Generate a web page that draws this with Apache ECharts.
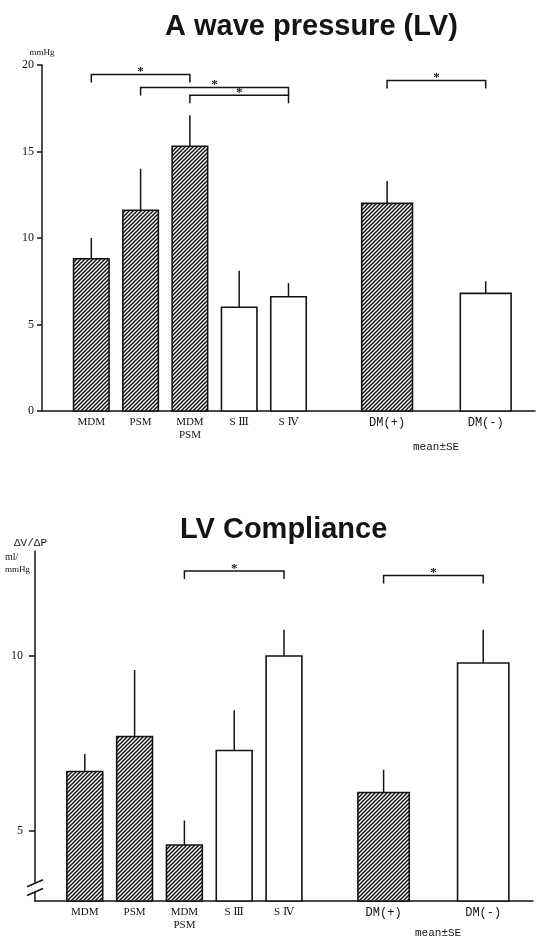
<!DOCTYPE html>
<html><head><meta charset="utf-8">
<script src="https://cdn.jsdelivr.net/npm/echarts@6/dist/echarts.min.js"></script>
<style>html,body{margin:0;padding:0;background:#fff}#c{width:541px;height:941px}</style>
</head><body><div id="c"></div>
<script>
// ---- data ----
const categories = ['MDM', 'PSM', 'MDM\nPSM', 'S Ⅲ', 'S Ⅳ', '', 'DM(+)', '', 'DM(-)'];
const aWaveMean = [8.8, 11.6, 15.3, 6.0, 6.6, null, 12.0, null, 6.8];
const aWaveSE   = [1.2, 2.4, 1.8, 2.1, 0.8, null, 1.3, null, 0.7];
const aWaveTicks = [0, 5, 10, 15, 20];
const aWaveBrackets = [[0, 2, 19.45], [1, 4, 18.7], [2, 4, 18.25], [6, 8, 19.1]]; // from, to, level
const complianceMean = [6.7, 7.7, 4.6, 7.3, 10.0, null, 6.1, null, 9.8];
const complianceSE   = [0.5, 1.9, 0.7, 1.15, 0.75, null, 0.65, null, 0.95];
const complianceTicks = [5, 10];
const complianceBrackets = [[2, 4, 12.43], [6, 8, 12.3]];

// ---- style ----
const SERIF = '"Liberation Serif","DejaVu Serif",serif';
const MONO = '"Liberation Mono","DejaVu Sans Mono",monospace';
const SANS = '"Liberation Sans",Arial,sans-serif';
const INK = '#141414';
const HATCHED = new Set(['MDM', 'PSM', 'MDM\nPSM', 'DM(+)']);
const WIDE = new Set(['DM(+)', 'DM(-)']);

function hatchPattern() {
  const s = 4, c = document.createElement('canvas');
  c.width = s; c.height = s;
  const g = c.getContext('2d');
  g.fillStyle = '#fff'; g.fillRect(0, 0, s, s);
  g.strokeStyle = INK; g.lineWidth = 1.5;
  g.beginPath();
  g.moveTo(-1, s + 1); g.lineTo(s + 1, -1);
  g.moveTo(-2, 2); g.lineTo(2, -2);
  g.moveTo(s - 2, s + 2); g.lineTo(s + 2, s - 2);
  g.stroke();
  return c;
}
const HATCH = { image: hatchPattern(), repeat: 'repeat' };

function barSeries(gi, means, ses, baseVal) {
  const data = means.map((m, i) => [i, m, ses[i]]).filter(d => d[1] != null);
  return {
    type: 'custom', xAxisIndex: gi, yAxisIndex: gi, clip: false,
    encode: { x: 0, y: 1 },
    data,
    renderItem(params, api) {
      const i = api.value(0), m = api.value(1), se = api.value(2);
      const name = categories[i];
      const slot = api.size([1, 0])[0];
      const w = slot * (WIDE.has(name) ? 1.03 : 0.72);
      const top = api.coord([i, m]);
      const base = api.coord([i, baseVal]);
      const err = api.coord([i, m + se]);
      return {
        type: 'group', children: [
          { type: 'line', shape: { x1: top[0], y1: top[1], x2: err[0], y2: err[1] },
            style: { stroke: INK, lineWidth: 1.5 } },
          { type: 'rect', shape: { x: top[0] - w / 2, y: top[1], width: w, height: base[1] - top[1] },
            style: { fill: HATCHED.has(name) ? HATCH : '#fff', stroke: INK, lineWidth: 1.6 } }
        ]
      };
    }
  };
}

function bracketSeries(gi, brackets) {
  return {
    type: 'custom', xAxisIndex: gi, yAxisIndex: gi, clip: false,
    encode: { x: [0, 1], y: 2 },
    data: brackets,
    renderItem(params, api) {
      const a = api.coord([api.value(0), api.value(2)]);
      const b = api.coord([api.value(1), api.value(2)]);
      const d = 8;
      return {
        type: 'group', children: [
          { type: 'polyline', shape: { points: [[a[0], a[1] + d], [a[0], a[1]], [b[0], b[1]], [b[0], b[1] + d]] },
            style: { stroke: INK, lineWidth: 1.5, fill: null } },
          { type: 'text', x: (a[0] + b[0]) / 2, y: a[1] + 4,
            style: { text: '*', align: 'center', verticalAlign: 'bottom', font: 'bold 13px ' + SERIF, fill: INK } }
        ]
      };
    }
  };
}

function xAxisFor(gi) {
  return {
    type: 'value', gridIndex: gi, min: -1, max: 9, interval: 1,
    axisLine: { show: true, onZero: false, lineStyle: { color: INK, width: 1.5 } },
    axisTick: { show: false }, splitLine: { show: false },
    axisLabel: {
      margin: 5, color: INK, fontFamily: SERIF, fontSize: 11, lineHeight: 13,
      formatter: v => {
        const n = categories[Math.round(v)];
        if (!n) return '';
        return WIDE.has(n) ? '{m|' + n + '}' : n;
      },
      rich: { m: { fontFamily: MONO, fontSize: 12, color: INK } }
    }
  };
}

const chart = echarts.init(document.getElementById('c'));
chart.setOption({
  animation: false,
  backgroundColor: '#fff',
  title: [
    { text: 'A wave pressure (LV)', left: 160, top: 7,
      textStyle: { fontFamily: SANS, fontWeight: 'bold', fontSize: 29, color: INK } },
    { text: 'LV Compliance', left: 175, top: 510,
      textStyle: { fontFamily: SANS, fontWeight: 'bold', fontSize: 29, color: INK } }
  ],
  grid: [
    { left: 42, right: 6, top: 65, height: 346 },
    { left: 35, right: 8, top: 551, height: 350 }
  ],
  xAxis: [xAxisFor(0), xAxisFor(1)],
  yAxis: [
    { type: 'value', gridIndex: 0, min: 0, max: 20, interval: 5,
      name: 'mmHg', nameGap: 8, nameTextStyle: { fontFamily: SERIF, fontSize: 9, color: INK },
      axisLine: { show: true, onZero: false, lineStyle: { color: INK, width: 1.5 } },
      axisTick: { show: true, length: 5, lineStyle: { color: INK, width: 1.5 }, customValues: aWaveTicks },
      axisLabel: { margin: 8, fontFamily: SERIF, fontSize: 12, color: INK, customValues: aWaveTicks },
      splitLine: { show: false } },
    { type: 'value', gridIndex: 1, min: 3, max: 13,
      axisLine: { show: true, onZero: false, lineStyle: { color: INK, width: 1.5 } },
      axisTick: { show: true, length: 6, lineStyle: { color: INK, width: 1.5 }, customValues: complianceTicks },
      axisLabel: { margin: 12, fontFamily: SERIF, fontSize: 12, color: INK, customValues: complianceTicks },
      splitLine: { show: false } }
  ],
  series: [
    barSeries(0, aWaveMean, aWaveSE, 0),
    bracketSeries(0, aWaveBrackets),
    barSeries(1, complianceMean, complianceSE, 3),
    bracketSeries(1, complianceBrackets)
  ]
});

// decorations: axis break marks, axis-name block, mean±SE notes
const up = chart.convertToPixel({ gridIndex: 1 }, [-1, 3.52]);
const lo = chart.convertToPixel({ gridIndex: 1 }, [-1, 3.27]);
chart.setOption({
  graphic: [
    { type: 'rect', shape: { x: up[0] - 3, y: up[1], width: 6, height: lo[1] - up[1] }, style: { fill: '#fff' }, z: 50 },
    { type: 'line', shape: { x1: up[0] - 8, y1: up[1] + 4, x2: up[0] + 8, y2: up[1] - 3 }, style: { stroke: INK, lineWidth: 1.5 }, z: 51 },
    { type: 'line', shape: { x1: lo[0] - 8, y1: lo[1] + 4, x2: lo[0] + 8, y2: lo[1] - 3 }, style: { stroke: INK, lineWidth: 1.5 }, z: 51 },
    { type: 'text', left: 14, top: 538, style: { text: 'ΔV/ΔP', font: '11px ' + MONO, fill: INK } },
    { type: 'text', left: 5, top: 552, style: { text: 'ml/', font: '10px ' + SERIF, fill: INK } },
    { type: 'text', left: 5, top: 565, style: { text: 'mmHg', font: '9px ' + SERIF, fill: INK } },
    { type: 'text', left: 413, top: 442, style: { text: 'mean±SE', font: '11px ' + MONO, fill: INK } },
    { type: 'text', left: 415, top: 928, style: { text: 'mean±SE', font: '11px ' + MONO, fill: INK } }
  ]
});
</script>
</body></html>
